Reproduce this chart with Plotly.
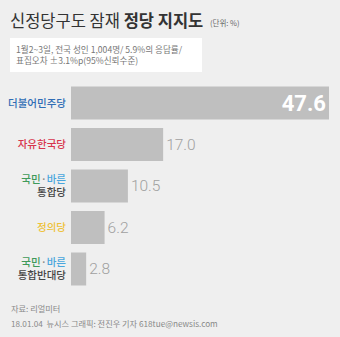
import plotly.graph_objects as go

parties = ["더불어민주당", "자유한국당", "국민·바른 통합당", "정의당", "국민·바른 통합반대당"]
party_labels = [
    "<span style='color:#2f6db5'>더불어민주당</span>",
    "<span style='color:#d8344c'>자유한국당</span>",
    "<span style='color:#3f9a5a'>국민</span><span style='color:#888'>·</span><span style='color:#4aa6dd'>바른</span><br><span style='color:#444'>통합당</span>",
    "<span style='color:#eec23a'>정의당</span>",
    "<span style='color:#3f9a5a'>국민</span><span style='color:#888'>·</span><span style='color:#4aa6dd'>바른</span><br><span style='color:#444'>통합반대당</span>",
]
support = [47.6, 17.0, 10.5, 6.2, 2.8]

W, H = 340, 337
FONT = "Noto Sans CJK KR"
NUMFONT = "Roboto"

texts = ["<b>%.1f</b>" % support[0]] + ["%.1f" % v for v in support[1:]]
positions = ["inside"] + ["outside"] * (len(support) - 1)
tcolors = ["#ffffff"] + ["#a0a0a0"] * (len(support) - 1)
tsizes = [22] + [15.5] * (len(support) - 1)

fig = go.Figure(go.Bar(
    x=support, y=parties, orientation="h",
    marker=dict(color="#bfbfbf", line=dict(width=0)),
    text=texts, textposition=positions, insidetextanchor="end",
    textfont=dict(color=tcolors, size=tsizes, family=NUMFONT, weight=300),
    cliponaxis=False, hoverinfo="skip",
))

x0 = 71 / W
top, bot = 82.25, 289.75
fig.update_layout(
    width=W, height=H, margin=dict(l=0, r=0, t=0, b=0),
    paper_bgcolor="#efefef", plot_bgcolor="#efefef",
    bargap=0.2, showlegend=False,
    font=dict(family=FONT),
    xaxis=dict(domain=[x0, 1], range=[0, 269 / 5.42], visible=False, fixedrange=True),
    yaxis=dict(domain=[1 - bot / H, 1 - top / H], autorange="reversed",
               tickvals=parties, ticktext=party_labels, ticks="", showline=False,
               showgrid=False, zeroline=False, ticklabelstandoff=4,
               tickfont=dict(size=10.5, family=FONT, color="#444", weight=500)),
    shapes=[dict(type="rect", xref="paper", yref="paper",
                 x0=10 / W, x1=202 / W, y0=1 - 72 / H, y1=1 - 38 / H,
                 fillcolor="#ffffff", line=dict(width=0), layer="below")],
)

def ann(text, x, y, size, color, anchor="left"):
    fig.add_annotation(text=text, xref="paper", yref="paper", x=x / W, y=1 - y / H,
                       xanchor=anchor, yanchor="middle", showarrow=False,
                       font=dict(size=size, color=color, family=FONT), align="left")

ann("신정당구도 잠재 <b>정당 지지도</b>", 8, 20, 16.5, "#333333")
ann("(단위: %)", 208, 22, 7.5, "#666666")
ann("1월2~3일, 전국 성인 1,004명/ 5.9%의 응답률/<br>표집오차 ±3.1%p(95%신뢰수준)", 14, 55, 8.6, "#777777")
ann("자료: 리얼미터", 9, 308, 8.2, "#888888")
ann("18.01.04  뉴시스 그래픽: 전진우 기자 618tue@newsis.com", 9, 323, 8.2, "#888888")

fig.write_html("out.html")
